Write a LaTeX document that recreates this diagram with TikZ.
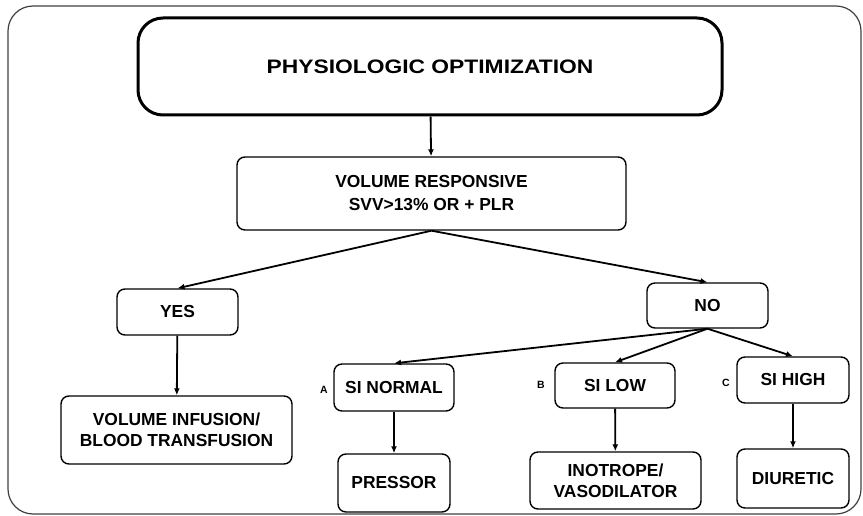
\documentclass[tikz,border=0pt]{standalone}
\usepackage{fontspec}
\setmainfont{Liberation Sans}
\usepackage{graphicx}
\usepackage{tikz}
\usetikzlibrary{arrows.meta}
\usetikzlibrary{positioning, shapes.misc}
\tikzset{
step box/.style = { rectangle, draw = black, fill = white, line width = 1.4pt, rounded corners = 8pt, align = center, inner sep = 0pt, font = \bfseries\fontsize{17.4}{21}\selectfont },
title box/.style = { rectangle, draw = black, fill = white, line width = 3pt, rounded corners = 25pt, inner sep = 0pt, font = \bfseries\fontsize{19.5}{23}\selectfont },
branch tag/.style = { draw = none, inner sep = 0pt, font = \bfseries\fontsize{10.5}{12}\selectfont },
flow/.style = { line width = 1.8pt, -{Latex[length = 7pt, width = 6pt]} },
}

\begin{document}
\begin{tikzpicture}[x = 1pt, y = -1pt]
      \useasboundingbox (0, 0) rectangle (863, 516);
      % frame
      \draw[black!75, line width = 1.2pt, rounded corners = 25pt] (8, 6) rectangle (861, 514);

      \node[title box, minimum width = 584pt, minimum height = 97pt] (opt) at (430, 66.5) {\scalebox{1.17}[1]{PHYSIOLOGIC OPTIMIZATION}};
      \node[step box, minimum width = 389pt, minimum height = 73pt, font = \bfseries\fontsize{17.4}{23}\selectfont] (vol) at (431.5, 193.5) {VOLUME RESPONSIVE\\SVV>13\% OR + PLR};

      \node[step box, minimum width = 121pt, minimum height = 46pt] (yes) at (177.5, 312) {YES};
      \node[step box, minimum width = 121pt, minimum height = 45pt] (no) at (707.5, 305.5) {NO};
      \node[step box, minimum width = 231pt, minimum height = 68pt] (infusion) at (176.5, 430) {VOLUME INFUSION/\\BLOOD TRANSFUSION};

      \node[step box, minimum width = 120pt, minimum height = 47pt] (si normal) at (394, 387.5) {SI NORMAL};
      \node[step box, minimum width = 120pt, minimum height = 45pt] (si low) at (615, 385.5) {SI LOW};
      \node[step box, minimum width = 112pt, minimum height = 46pt] (si high) at (793, 380) {SI HIGH};

      \node[branch tag] (tag a) at (324, 390) {A};
      \node[branch tag] (tag b) at (541, 385) {B};
      \node[branch tag] (tag c) at (726, 383) {C};

      \node[step box, minimum width = 112pt, minimum height = 58pt] (pressor) at (394, 483) {PRESSOR};
      \node[step box, minimum width = 171pt, minimum height = 57pt] (inotrope) at (615.5, 480.5) {INOTROPE/\\VASODILATOR};
      \node[step box, minimum width = 112pt, minimum height = 59pt] (diuretic) at (793, 478.5) {DIURETIC};

      \draw[flow] (opt) -- (vol);
      \draw[flow] (vol.south) -- (yes.north);
      \draw[flow] (vol.south) -- (no.north);
      \draw[flow] (yes) -- (infusion);
      \draw[flow] (no.south) -- (si normal.north);
      \draw[flow] (no.south) -- (si low.north);
      \draw[flow] (no.south) -- (si high.north);
      \draw[flow] (si normal) -- (pressor);
      \draw[flow] (si low) -- (inotrope);
      \draw[flow] (si high) -- (diuretic);
    \end{tikzpicture}
\end{document}
